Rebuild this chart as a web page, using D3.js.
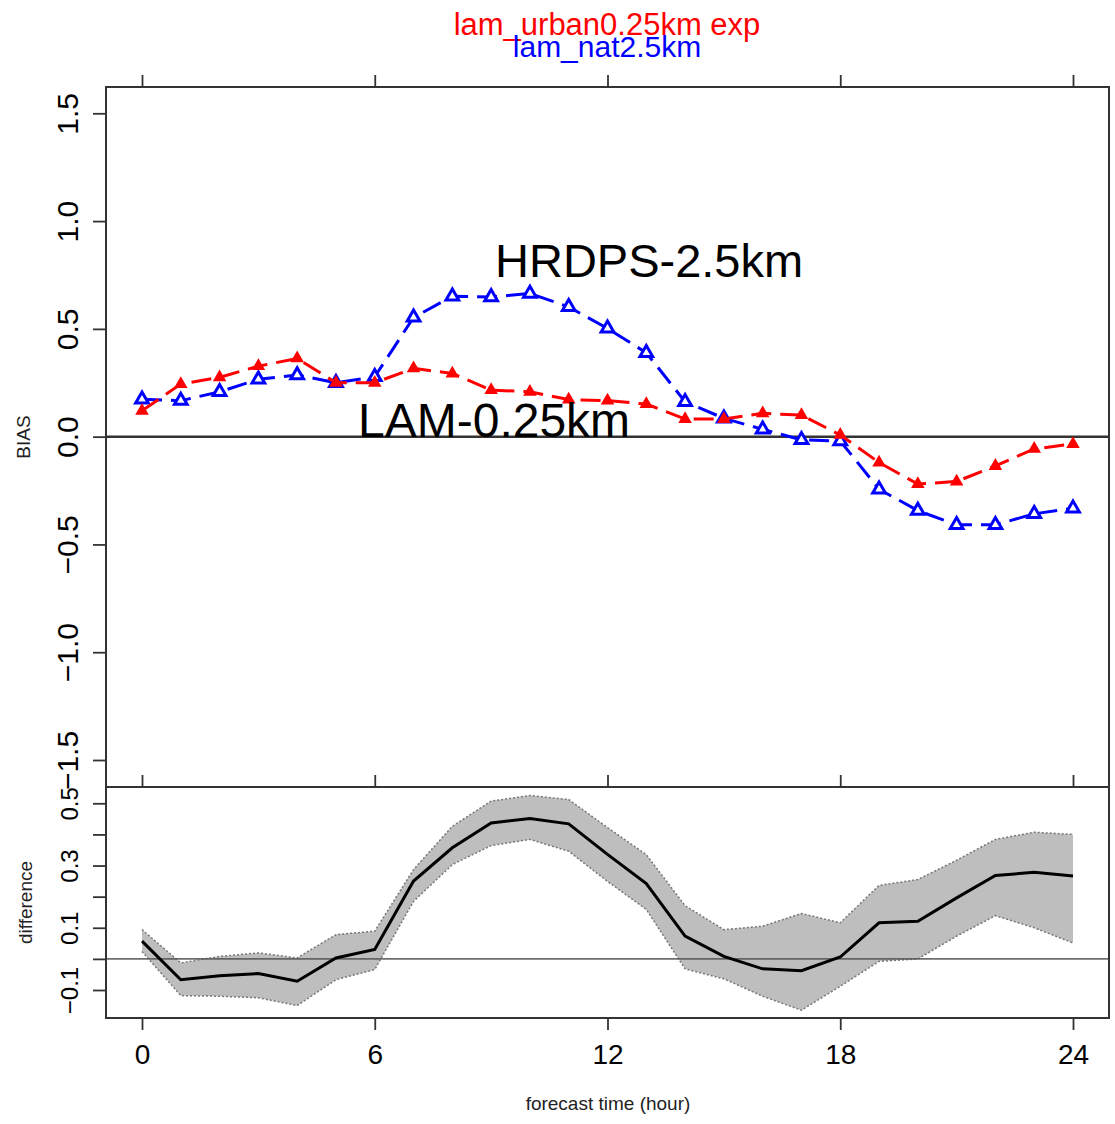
<!DOCTYPE html>
<html>
<head>
<meta charset="utf-8">
<script src="https://cdn.jsdelivr.net/npm/d3@7"></script>
<style>
body { margin: 0; background: #fff; }
text { font-family: "Liberation Sans", Arial, Helvetica, sans-serif; }
</style>
</head>
<body>
<script>
// forecast hours
var hours = [0,1,2,3,4,5,6,7,8,9,10,11,12,13,14,15,16,17,18,19,20,21,22,23,24];

// BIAS, lam_urban0.25km exp (red)
var lamBias = [0.120,0.244,0.275,0.327,0.363,0.250,0.250,0.317,0.293,0.216,0.208,0.172,0.167,
               0.151,0.082,0.082,0.108,0.100,0.008,-0.120,-0.220,-0.208,-0.136,-0.057,-0.034];
// BIAS, lam_nat2.5km (blue)
var hrdpsBias = [0.173,0.167,0.208,0.266,0.286,0.250,0.278,0.553,0.651,0.648,0.664,0.602,0.502,
                 0.389,0.162,0.085,0.034,-0.015,-0.020,-0.244,-0.343,-0.409,-0.409,-0.358,-0.332];

// difference panel
var diffMean = [0.057,-0.067,-0.054,-0.047,-0.072,0.003,0.030,0.250,0.357,0.437,0.451,0.434,0.336,
                0.242,0.073,0.008,-0.032,-0.038,0.006,0.116,0.121,0.196,0.268,0.278,0.266];
var diffUpper = [0.094,-0.013,0.008,0.019,0.003,0.078,0.089,0.287,0.426,0.507,0.525,0.512,0.422,
                 0.335,0.171,0.094,0.105,0.146,0.116,0.236,0.255,0.317,0.384,0.407,0.400];
var diffLower = [0.024,-0.118,-0.120,-0.125,-0.150,-0.067,-0.034,0.185,0.303,0.364,0.384,0.346,0.249,
                 0.159,-0.032,-0.064,-0.120,-0.165,-0.088,-0.008,0.000,0.073,0.139,0.100,0.051];

// ticks
var hourTicks = [0,6,12,18,24];
var biasTicks = [-1.5,-1.0,-0.5,0.0,0.5,1.0,1.5];
var diffTicks = [-0.1,0.0,0.1,0.2,0.3,0.4,0.5];
var diffLabels = [-0.1,0.1,0.3,0.5];

var width = 1115, height = 1124;
var left = 106, right = 1109;
var top1 = 87, bot1 = 787, top2 = 787, bot2 = 1018;

var svg = d3.select("body").append("svg")
    .attr("width", width)
    .attr("height", height);

svg.append("rect").attr("width", width).attr("height", height).attr("fill", "#fff");

var x = d3.scaleLinear().domain([0, 24]).range([142, 1073]);
var yTop = d3.scaleLinear().domain([-1.5, 1.5]).range([760, 113.3]);
var yBot = d3.scaleLinear().domain([-0.1, 0.5]).range([990, 803.3]);

var fmt1 = d3.format(".1f");

// ---- titles (they touch each other in the original too)
svg.append("text").attr("x", 607).attr("y", 35)
    .attr("text-anchor", "middle").attr("font-size", 31).attr("fill", "#ff0000")
    .text("lam_urban0.25km exp");
svg.append("text").attr("x", 607).attr("y", 57)
    .attr("text-anchor", "middle").attr("font-size", 30).attr("fill", "#0000ff")
    .text("lam_nat2.5km");

// ---- top panel
var g1 = svg.append("g");

g1.append("line")
    .attr("x1", left).attr("x2", right)
    .attr("y1", yTop(0)).attr("y2", yTop(0))
    .attr("stroke", "#333").attr("stroke-width", 2.5);

var lineTop = function(vals) {
  return d3.line()
    .x(function(d, i) { return x(hours[i]); })
    .y(function(d) { return yTop(d); })(vals);
};

g1.append("path").attr("d", lineTop(hrdpsBias))
    .attr("fill", "none").attr("stroke", "#0000ff").attr("stroke-width", 3)
    .attr("stroke-dasharray", "20,9");
g1.selectAll(".blue").data(hrdpsBias).enter().append("path")
    .attr("class", "blue")
    .attr("d", d3.symbol().type(d3.symbolTriangle).size(70))
    .attr("transform", function(d, i) { return "translate(" + x(hours[i]) + "," + yTop(d) + ")"; })
    .attr("fill", "#fff").attr("stroke", "#0000ff").attr("stroke-width", 3);

g1.append("path").attr("d", lineTop(lamBias))
    .attr("fill", "none").attr("stroke", "#ff0000").attr("stroke-width", 3)
    .attr("stroke-dasharray", "20,9");
g1.selectAll(".red").data(lamBias).enter().append("path")
    .attr("class", "red")
    .attr("d", d3.symbol().type(d3.symbolTriangle).size(80))
    .attr("transform", function(d, i) { return "translate(" + x(hours[i]) + "," + yTop(d) + ")"; })
    .attr("fill", "#ff0000");

g1.append("text").attr("x", 495).attr("y", 277)
    .attr("font-size", 47).attr("fill", "#000").text("HRDPS-2.5km");
g1.append("text").attr("x", 358).attr("y", 437)
    .attr("font-size", 48).attr("fill", "#000").text("LAM-0.25km");

// left axis of top panel
var axTop = g1.append("g")
    .attr("transform", "translate(" + left + ",0)")
    .call(d3.axisLeft(yTop).tickValues(biasTicks).tickSize(13).tickFormat(fmt1));
axTop.select(".domain").remove();
axTop.selectAll(".tick line").attr("stroke", "#333").attr("stroke-width", 1.8);
axTop.selectAll(".tick text")
    .attr("x", null).attr("dy", null)
    .attr("transform", "translate(-28,0) rotate(-90)")
    .attr("text-anchor", "middle")
    .attr("font-size", 30).attr("fill", "#000");

// ticks along the top
var axTT = g1.append("g")
    .attr("transform", "translate(0," + top1 + ")")
    .call(d3.axisTop(x).tickValues(hourTicks).tickSize(12).tickFormat(""));
axTT.select(".domain").remove();
axTT.selectAll(".tick line").attr("stroke", "#333").attr("stroke-width", 1.8);

g1.append("rect")
    .attr("x", left).attr("y", top1)
    .attr("width", right - left).attr("height", bot1 - top1)
    .attr("fill", "none").attr("stroke", "#333").attr("stroke-width", 2);

g1.append("text")
    .attr("transform", "translate(30," + ((top1 + bot1) / 2) + ") rotate(-90)")
    .attr("text-anchor", "middle").attr("font-size", 19).attr("fill", "#222")
    .text("BIAS");

// ---- bottom panel
var g2 = svg.append("g");

var band = d3.area()
    .x(function(d, i) { return x(hours[i]); })
    .y0(function(d, i) { return yBot(diffLower[i]); })
    .y1(function(d, i) { return yBot(diffUpper[i]); });

g2.append("path").attr("d", band(hours))
    .attr("fill", "#bebebe").attr("stroke", "none");

var lineBot = function(vals) {
  return d3.line()
    .x(function(d, i) { return x(hours[i]); })
    .y(function(d) { return yBot(d); })(vals);
};

g2.append("path").attr("d", lineBot(diffUpper))
    .attr("fill", "none").attr("stroke", "#777").attr("stroke-width", 1.5)
    .attr("stroke-dasharray", "2,2");
g2.append("path").attr("d", lineBot(diffLower))
    .attr("fill", "none").attr("stroke", "#777").attr("stroke-width", 1.5)
    .attr("stroke-dasharray", "2,2");

g2.append("line")
    .attr("x1", left).attr("x2", right)
    .attr("y1", yBot(0)).attr("y2", yBot(0))
    .attr("stroke", "#555").attr("stroke-width", 1.8).attr("opacity", 0.85);

g2.append("path").attr("d", lineBot(diffMean))
    .attr("fill", "none").attr("stroke", "#000").attr("stroke-width", 3);

var axBL = g2.append("g")
    .attr("transform", "translate(" + left + ",0)")
    .call(d3.axisLeft(yBot).tickValues(diffTicks).tickSize(13)
      .tickFormat(function(d) {
        var hit = diffLabels.some(function(v) { return Math.abs(v - d) < 1e-9; });
        return hit ? fmt1(d) : "";
      }));
axBL.select(".domain").remove();
axBL.selectAll(".tick line").attr("stroke", "#333").attr("stroke-width", 1.8);
axBL.selectAll(".tick text")
    .attr("x", null).attr("dy", null)
    .attr("transform", "translate(-28,0) rotate(-90)")
    .attr("text-anchor", "middle")
    .attr("font-size", 24).attr("fill", "#000");

var axBT = g2.append("g")
    .attr("transform", "translate(0," + top2 + ")")
    .call(d3.axisTop(x).tickValues(hourTicks).tickSize(12).tickFormat(""));
axBT.select(".domain").remove();
axBT.selectAll(".tick line").attr("stroke", "#333").attr("stroke-width", 1.8);

var axBB = g2.append("g")
    .attr("transform", "translate(0," + bot2 + ")")
    .call(d3.axisBottom(x).tickValues(hourTicks).tickSize(12).tickPadding(14));
axBB.select(".domain").remove();
axBB.selectAll(".tick line").attr("stroke", "#333").attr("stroke-width", 1.8);
axBB.selectAll(".tick text").attr("font-size", 28).attr("fill", "#000");

g2.append("rect")
    .attr("x", left).attr("y", top2)
    .attr("width", right - left).attr("height", bot2 - top2)
    .attr("fill", "none").attr("stroke", "#333").attr("stroke-width", 2);

g2.append("text")
    .attr("transform", "translate(32," + ((top2 + bot2) / 2) + ") rotate(-90)")
    .attr("text-anchor", "middle").attr("font-size", 19).attr("fill", "#222")
    .text("difference");

svg.append("text").attr("x", 608).attr("y", 1110)
    .attr("text-anchor", "middle").attr("font-size", 19).attr("fill", "#222")
    .text("forecast time (hour)");
</script>
</body>
</html>
